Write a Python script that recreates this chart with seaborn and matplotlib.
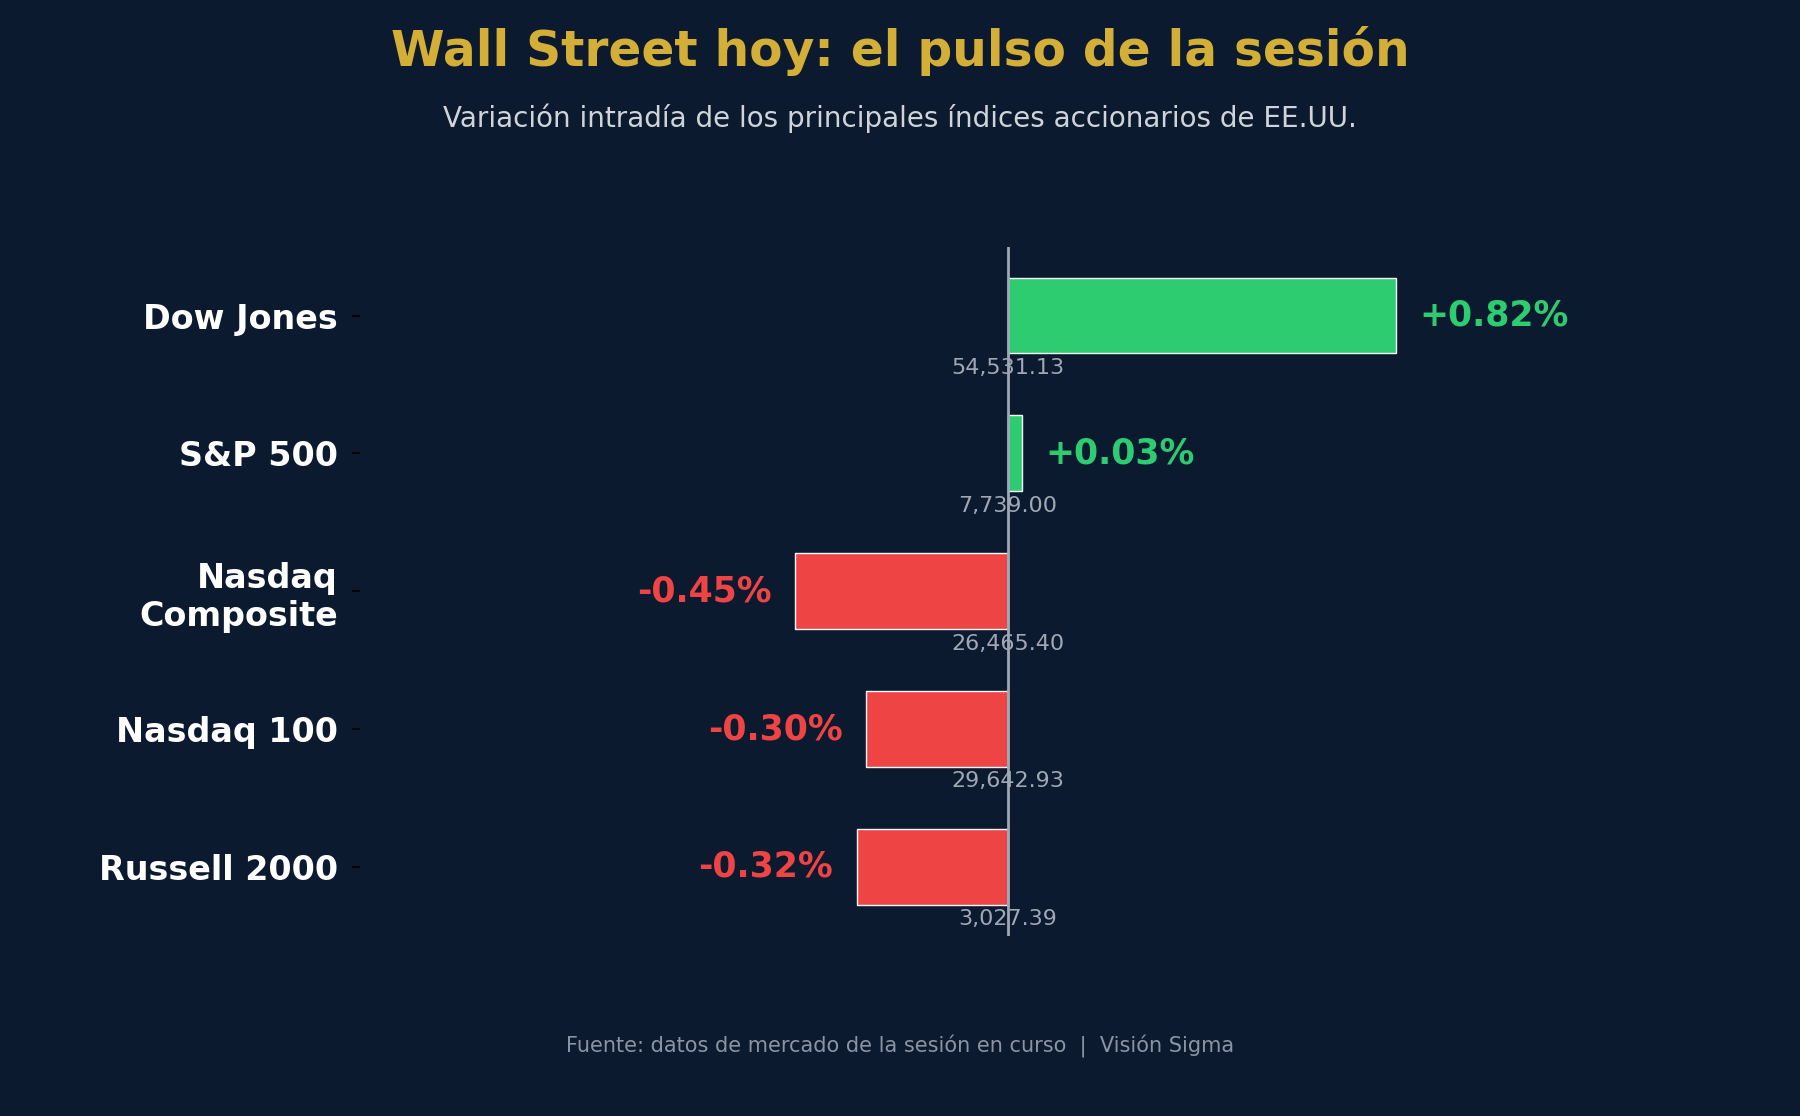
import pandas as pd
import seaborn as sns
import matplotlib.pyplot as plt

indices = ["Dow Jones", "S&P 500", "Nasdaq\nComposite", "Nasdaq 100", "Russell 2000"]
changes = [0.82, 0.03, -0.45, -0.30, -0.32]
levels = ["54,531.13", "7,739.00", "26,465.40", "29,642.93", "3,027.39"]

bg = "#0b1a2f"
green = "#2ecc71"
red = "#ef4444"

df = pd.DataFrame({"index": indices, "change": changes})
df["sign"] = ["up" if c >= 0 else "down" for c in changes]

sns.set_theme(style="dark")
plt.rcParams["font.family"] = ["DejaVu Sans"]

fig = plt.figure(figsize=(18, 11.16), dpi=100, facecolor=bg)
ax = fig.add_axes([0.2, 0.1615, 0.72, 0.6175])
ax.set_facecolor(bg)

sns.barplot(data=df, x="change", y="index", hue="sign", orient="h",
            palette={"up": green, "down": red}, width=0.55, dodge=False,
            legend=False, ax=ax, saturation=1)

ax.axvline(0, color="#a0a8b5", lw=2)
ax.set_xlim(-1.37, 1.37)
ax.set_ylim(4.5, -0.5)
ax.set_xlabel("")
ax.set_ylabel("")
ax.set_xticks([])
for s in ax.spines.values():
    s.set_visible(False)
ax.tick_params(axis="y", length=6, color="black", left=True, pad=10)
for lbl in ax.get_yticklabels():
    lbl.set_color("white")
    lbl.set_fontsize(24)
    lbl.set_fontweight("bold")
ax.grid(False)

for i, (c, lv) in enumerate(zip(changes, levels)):
    col = green if c >= 0 else red
    txt = f"+{c:.2f}%" if c >= 0 else f"{c:.2f}%"
    ax.text(c + (0.05 if c >= 0 else -0.05), i, txt, color=col, fontsize=25,
            fontweight="bold", ha="left" if c >= 0 else "right", va="center")
    ax.text(0, i + 0.38, lv, color="#a0a8b5", fontsize=16, ha="center", va="center")

fig.text(0.5, 0.954, "Wall Street hoy: el pulso de la sesión", color="#d4af37",
         fontsize=35, fontweight="bold", ha="center", va="center")
fig.text(0.5, 0.894, "Variación intradía de los principales índices accionarios de EE.UU.",
         color="#d0d4da", fontsize=20, ha="center", va="center")
fig.text(0.5, 0.062, "Fuente: datos de mercado de la sesión en curso  |  Visión Sigma",
         color="#8a94a3", fontsize=15, ha="center", va="center")

fig.savefig("out.png", dpi=100, facecolor=bg)
